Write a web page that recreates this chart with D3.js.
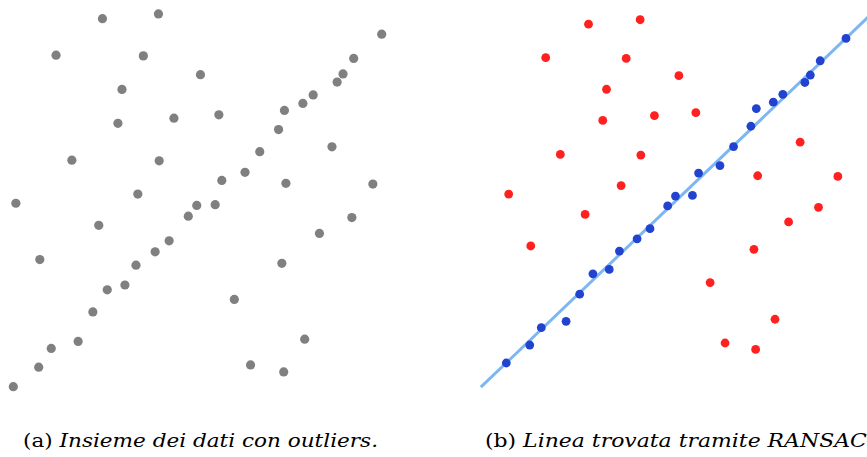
<!DOCTYPE html>
<html>
<head>
<meta charset="utf-8">
<script src="https://cdn.jsdelivr.net/npm/d3@7"></script>
<style>
  body { margin: 0; background: #fff; }
</style>
</head>
<body>
<svg id="chart"></svg>
<script>
const width = 867
const height = 457

// point coordinates (same units in both panels)
const xs = [2.42, 3.94, 1.16, 3.53, 5.08, 2.95, 2.84, 4.36, 1.59, 3.96, 3.38, 0.07,
  10.0, 9.24, 8.95, 8.79, 8.14, 7.86, 7.36, 5.58, 7.20, 8.65, 6.69, 6.29, 5.66, 7.40,
  9.76, 4.98, 5.48, 4.75, 9.19, 8.31, 2.32, 4.23, 3.85, 0.72, 3.33, 7.29, 3.03, 2.55,
  6.00, 2.16, 1.76, 1.03, 0.69, 0.00, 7.91, 6.44, 7.34]
const ys = [9.99, 10.12, 9.00, 8.98, 8.47, 8.07, 7.15, 7.29, 6.15, 6.13, 5.23, 4.98,
  9.57, 8.91, 8.49, 8.27, 7.92, 7.69, 7.50, 7.38, 6.98, 6.51, 6.38, 5.82, 5.60, 5.52,
  5.50, 4.92, 4.94, 4.63, 4.59, 4.16, 4.38, 3.96, 3.66, 3.45, 3.30, 3.35, 2.76, 2.63,
  2.37, 2.03, 1.23, 1.04, 0.53, 0.00, 1.29, 0.59, 0.40]
// 1 = inlier found by RANSAC, 0 = outlier
const inlier = [0, 0, 0, 0, 0, 0, 0, 0, 0, 0, 0, 0,
  1, 1, 1, 1, 1, 1, 1, 0, 1, 0, 1, 1, 1, 0,
  0, 1, 1, 1, 0, 0, 0, 1, 1, 0, 1, 0, 1, 1,
  0, 1, 1, 1, 1, 1, 0, 0, 0]

// fitted line y = slope * x + intercept
const lineSlope = 0.957
const lineIntercept = 0.005
const lineX = [-0.75, 10.8]

const captions = ['(a) ', 'Insieme dei dati con outliers.', '(b) ', 'Linea trovata tramite RANSAC.']

const points = xs.map((x, i) => ({x: x, y: ys[i], inlier: inlier[i]}))

const svg = d3.select('#chart').attr('width', width).attr('height', height)

// panel (a)
const xa = d3.scaleLinear().domain([0, 10]).range([13.3, 381.7])
const ya = d3.scaleLinear().domain([0, 10]).range([386.7, 18.3])

svg.append('g').selectAll('circle').data(points).enter().append('circle')
  .attr('cx', d => xa(d.x))
  .attr('cy', d => ya(d.y))
  .attr('r', 4.6)
  .attr('fill', '#808080')

// panel (b)
const xb = d3.scaleLinear().domain([0, 10]).range([506.3, 846])
const yb = d3.scaleLinear().domain([0, 10]).range([363, 23.8])

const line = d3.line().x(d => xb(d)).y(d => yb(lineSlope * d + lineIntercept))
svg.append('path')
  .datum(lineX)
  .attr('d', line)
  .attr('fill', 'none')
  .attr('stroke', '#7db7f3')
  .attr('stroke-width', 3)

svg.append('g').selectAll('circle').data(points).enter().append('circle')
  .attr('cx', d => xb(d.x))
  .attr('cy', d => yb(d.y))
  .attr('r', 4.4)
  .attr('fill', d => d.inlier ? '#2243d0' : '#ff2020')

// captions
function caption(x, label, body, len) {
  const t = svg.append('text')
    .attr('x', x).attr('y', 447)
    .attr('font-family', '"DejaVu Serif", "Liberation Serif", serif')
    .attr('font-size', 18.5)
    .attr('fill', '#000')
    .attr('textLength', len)
    .attr('lengthAdjust', 'spacingAndGlyphs')
  t.append('tspan').text(label)
  t.append('tspan').attr('font-style', 'italic').text(body)
}
caption(23, captions[0], captions[1], 355)
caption(485, captions[2], captions[3], 388)
</script>
</body>
</html>
